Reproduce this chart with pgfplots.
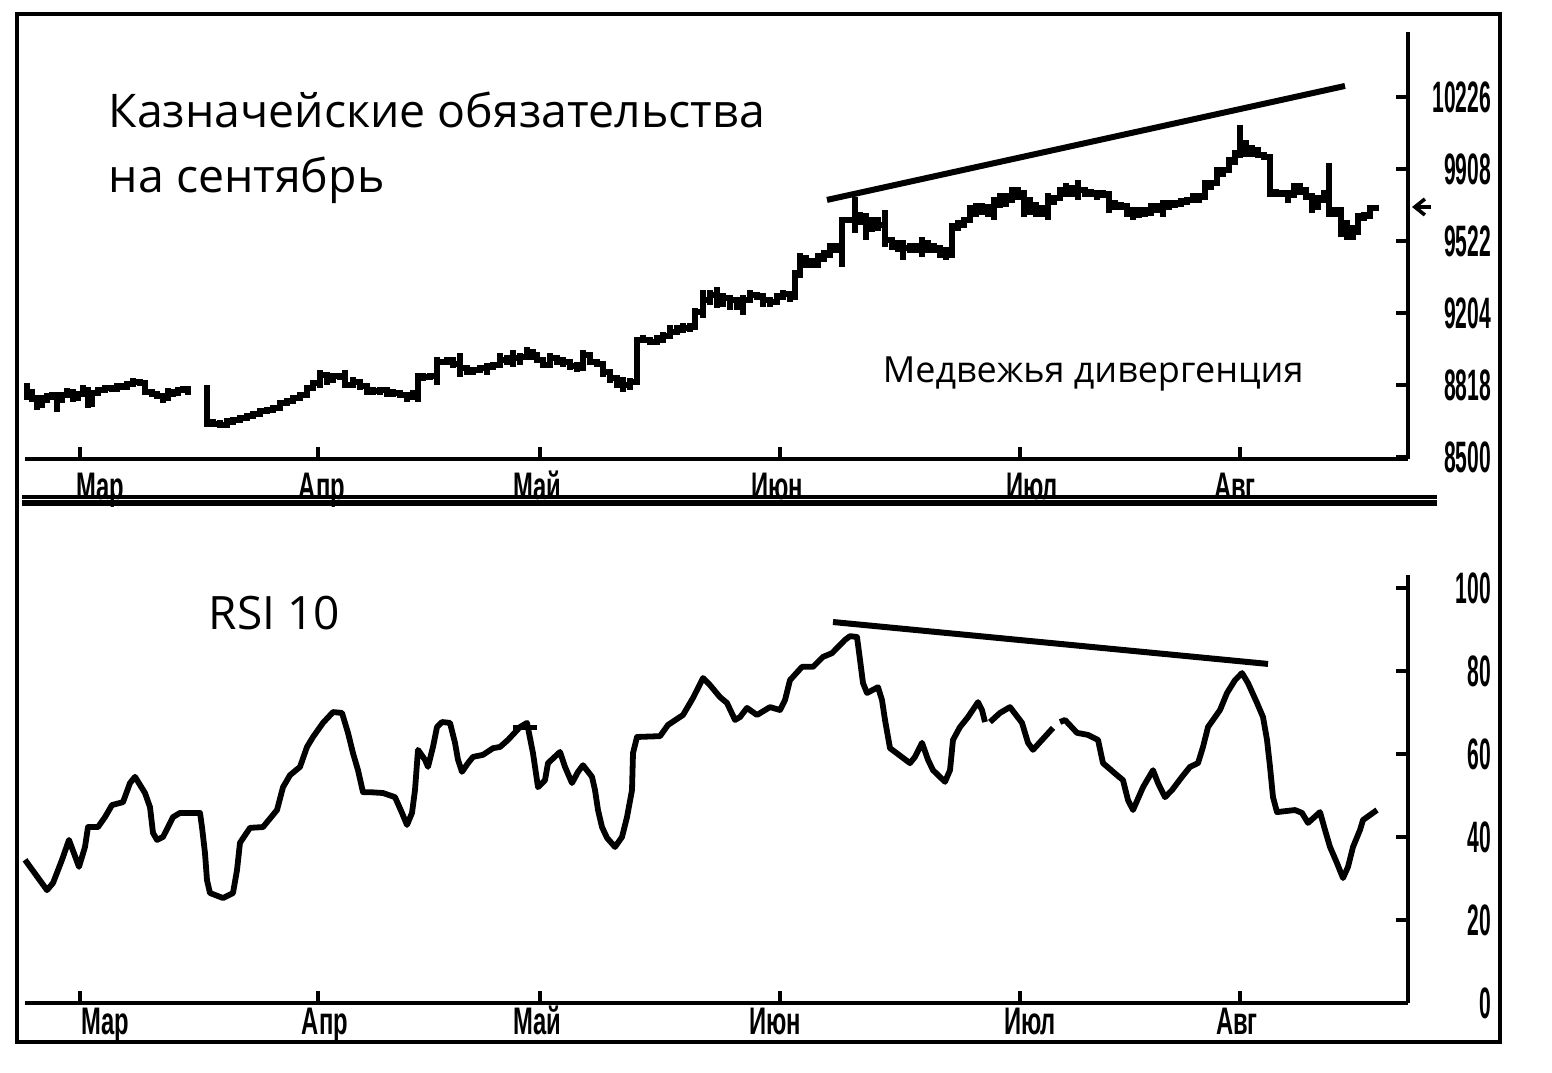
\documentclass[border=0pt]{standalone}
\usepackage{fontspec}
\setmainfont{Open Sans}
\newfontfamily\tickfont[FakeStretch=0.48]{Liberation Sans Bold}
\newfontfamily\monthfont[FakeStretch=0.62]{Liberation Sans Bold}
\usepackage{pgfplots}
\pgfplotsset{compat=1.18}
\usepackage{pgfplotstable}
\usetikzlibrary{arrows.meta}

% price bars, first segment: x (day position), low, high, close
\pgfplotstableread{
x lo hi c
27 87.82 88.66 88.22
32 87.72 88.22 87.92
37 87.33 87.97 87.57
42 87.47 88.07 87.82
47 87.72 88.17 87.97
52 87.97 88.22 88.07
57 87.23 87.97 87.82
62 87.82 88.22 88.07
67 88.07 88.41 88.22
73 87.72 88.17 87.92
78 87.97 88.22 88.12
83 88.22 88.56 88.32
88 87.42 88.32 88.07
92 87.47 88.22 88.17
98 88.17 88.41 88.32
105 88.32 88.56 88.41
112 88.22 88.46 88.36
117 88.32 88.66 88.51
122 88.32 88.56 88.46
127 88.41 88.71 88.61
133 88.46 88.91 88.71
140 88.56 88.81 88.66
145 88.07 88.71 88.22
152 87.97 88.32 88.12
157 87.92 88.22 88.02
163 87.67 88.17 87.92
168 88.07 88.41 88.22
173 87.97 88.32 88.17
178 88.17 88.41 88.32
183 88.22 88.46 88.36
188 88.07 88.46 88.32
}\priceA

\pgfplotstableread{
x lo hi c
207 86.48 88.56 86.73
213 86.48 86.83 86.63
220 86.43 86.83 86.58
227 86.48 86.93 86.73
233 86.58 86.98 86.83
240 86.73 87.08 86.93
247 86.83 87.18 87.03
253 86.98 87.23 87.13
260 87.08 87.42 87.28
267 87.18 87.47 87.33
273 87.23 87.57 87.42
280 87.42 87.82 87.67
287 87.57 87.92 87.77
293 87.72 88.07 87.92
300 87.82 88.22 88.07
307 88.07 88.56 88.41
313 88.32 88.81 88.66
320 88.41 89.30 89.06
327 88.56 89.06 88.91
333 88.66 89.16 89.01
340 88.81 89.16 89.01
345 88.41 89.30 88.56
353 88.56 88.96 88.71
360 88.32 88.81 88.51
367 88.07 88.56 88.32
373 88.07 88.41 88.27
380 88.07 88.41 88.32
387 87.97 88.41 88.22
393 87.97 88.32 88.17
400 87.92 88.32 88.07
407 87.72 88.22 87.97
413 87.82 88.32 88.02
418 87.72 89.16 88.91
423 88.81 89.16 88.96
430 88.81 89.16 89.01
437 88.56 89.95 89.70
447 89.65 89.90 89.80
453 89.40 89.90 89.60
460 88.96 90.15 89.40
467 89.06 89.40 89.21
473 89.06 89.40 89.30
480 89.21 89.55 89.40
487 89.06 89.65 89.45
493 89.30 89.65 89.55
500 89.40 90.15 89.80
507 89.55 90.04 89.90
513 89.45 90.29 89.90
520 89.55 90.15 89.95
527 89.80 90.44 90.20
533 89.80 90.29 90.04
537 89.65 89.90 89.80
543 89.40 89.90 89.55
550 89.65 90.15 89.90
557 89.55 90.04 89.80
563 89.45 89.95 89.70
570 89.30 89.80 89.50
577 89.21 89.70 89.40
583 89.30 90.29 90.04
590 89.55 89.90 89.70
597 89.45 89.80 89.60
603 88.96 89.65 89.21
610 88.66 89.16 88.91
617 88.41 88.96 88.71
623 88.22 88.96 88.56
630 88.32 88.91 88.71
637 88.66 90.94 90.79
643 90.64 91.04 90.79
650 90.54 90.94 90.69
657 90.54 91.04 90.79
663 90.64 91.19 90.99
670 90.94 91.53 91.19
677 91.04 91.53 91.28
683 91.19 91.63 91.38
690 91.19 91.63 91.48
695 91.28 92.37 92.17
703 91.88 93.26 92.77
710 92.52 93.26 93.01
717 92.37 93.41 92.77
723 92.42 93.11 92.87
730 92.27 92.91 92.77
737 92.27 92.91 92.52
743 92.02 93.01 92.77
750 92.62 93.26 93.01
757 92.77 93.16 92.96
763 92.42 93.11 92.77
770 92.42 92.87 92.67
777 92.67 93.11 92.91
783 92.91 93.26 93.06
790 92.67 93.16 92.96
795 92.77 94.25 94.00
800 94.25 95.09 94.50
806 94.35 94.99 94.65
812 94.35 94.85 94.50
818 94.60 95.09 94.85
824 94.65 95.24 94.99
830 95.09 95.59 95.34
836 95.09 95.59 95.44
842 94.40 96.88 96.73
848 96.63 96.88 96.73
855 96.08 97.87 96.98
860 96.48 97.07 96.73
866 95.74 97.07 96.48
872 96.13 96.88 96.33
878 96.23 96.88 96.48
885 95.39 97.22 95.74
892 95.24 95.74 95.49
898 95.14 95.74 95.44
903 94.75 95.74 95.34
910 95.09 95.59 95.24
916 95.09 95.59 95.34
922 94.90 95.88 95.49
928 95.09 95.74 95.34
934 95.09 95.59 95.24
940 94.85 95.49 95.09
946 94.75 95.39 94.99
952 95.09 96.58 96.33
958 96.23 96.73 96.48
964 96.38 96.88 96.73
970 96.88 97.47 97.22
976 96.88 97.57 97.12
982 96.97 97.57 97.37
988 96.88 97.47 97.12
994 96.73 97.87 97.47
1000 97.37 98.06 97.72
1006 97.37 98.06 97.82
1012 97.57 98.36 97.96
1018 97.72 98.36 98.06
1024 96.88 97.96 97.72
1030 96.97 97.87 97.47
1036 96.88 97.37 97.22
1042 96.88 97.47 97.12
1048 96.73 98.06 97.72
1054 97.47 97.96 97.82
1060 97.72 98.36 98.11
1066 97.87 98.56 98.21
1072 97.87 98.46 98.31
1078 97.72 98.71 98.21
1085 97.87 98.31 98.11
1091 97.87 98.21 98.06
1097 97.72 98.21 97.96
1103 97.82 98.21 98.01
1109 97.07 98.06 97.47
1115 97.22 97.72 97.47
1121 97.22 97.57 97.37
1127 96.88 97.57 97.22
1133 96.73 97.37 96.97
1139 96.88 97.37 97.12
1145 96.88 97.37 97.07
1151 97.07 97.57 97.32
1157 97.07 97.57 97.22
1163 96.88 97.72 97.47
1169 97.22 97.72 97.47
1175 97.32 97.72 97.52
1181 97.47 97.82 97.62
1187 97.47 97.82 97.72
1193 97.57 98.06 97.82
1199 97.57 98.06 97.87
1205 97.72 98.71 98.46
1211 98.21 98.71 98.56
1217 98.71 99.35 99.10
1223 98.85 99.35 99.20
1229 99.05 99.84 99.60
1235 99.55 100.19 99.94
1240 99.94 101.43 100.19
1246 99.84 100.69 100.29
1252 99.84 100.34 100.09
1258 99.84 100.34 99.94
1264 99.70 100.04 99.84
1270 97.87 99.94 98.11
1276 97.87 98.21 98.06
1282 97.87 98.21 98.01
1288 97.57 98.21 97.96
1294 98.06 98.56 98.31
1300 97.96 98.56 98.21
1306 97.72 98.21 97.91
1312 97.07 98.06 97.47
1318 97.22 97.96 97.72
1324 97.72 98.21 97.96
1329 96.88 99.55 97.12
1335 96.88 97.37 97.07
1341 95.88 97.37 96.13
1347 95.74 96.73 95.98
1353 95.74 96.48 96.13
1358 96.63 97.07 96.83
1364 96.73 97.12 96.93
1370 97.12 97.47 97.32
1376 97.22 97.47 97.37
}\priceB

% RSI 10
\pgfplotstableread{
x r
25 34.5
47 27.2
53 28.9
62 34.5
69 39.3
79 32.8
85 37.6
88 42.4
98 42.4
105 44.8
112 47.7
123 48.4
130 53.0
135 54.5
145 50.6
150 47.2
153 41.0
157 39.3
163 40.0
173 44.8
180 45.8
200 45.8
202 42.4
205 36.1
207 29.6
210 26.5
223 25.3
233 26.5
237 32.0
240 38.6
250 42.2
263 42.4
277 46.5
283 52.0
290 54.9
300 56.9
307 61.7
313 64.1
323 67.5
333 70.1
342 69.9
348 65.1
353 60.2
358 56.1
363 50.8
370 50.8
383 50.6
395 49.6
402 45.8
407 42.9
412 45.8
415 51.3
417 57.8
418 61.0
425 58.6
428 56.9
433 61.7
437 66.5
442 67.7
450 67.5
455 62.7
458 58.6
462 55.7
468 57.8
473 59.3
483 59.8
493 61.4
500 61.7
508 63.4
520 66.5
527 67.5
533 60.2
538 52.0
545 53.7
548 57.8
560 60.5
565 56.9
572 53.0
578 55.7
583 57.3
592 54.5
595 51.3
598 46.5
602 42.4
607 39.8
615 37.6
622 40.0
627 44.8
632 51.3
633 60.2
637 64.1
660 64.3
668 67.0
683 69.4
693 73.5
703 78.3
710 76.6
720 73.7
727 72.3
735 68.2
740 68.9
747 71.1
757 69.4
770 71.3
780 70.6
785 73.0
790 77.8
802 81.0
813 81.0
823 83.4
832 84.3
845 87.5
850 88.4
857 88.2
860 82.7
863 77.1
867 74.7
878 76.1
882 73.0
885 68.2
888 64.1
890 61.4
910 57.8
915 59.3
922 62.7
928 58.6
933 56.1
945 53.3
950 56.1
953 63.4
960 66.5
968 68.9
978 72.5
982 70.6
985 67.7
987 nan
990 67.7
1000 69.9
1010 71.3
1022 67.5
1028 62.7
1033 61.0
1053 66.3
1056 nan
1060 67.7
1065 68.2
1077 65.1
1088 64.6
1098 63.4
1103 57.8
1117 54.9
1123 53.7
1128 48.9
1133 46.5
1143 52.0
1153 56.1
1158 53.0
1165 49.6
1172 51.3
1182 54.5
1190 56.9
1198 57.8
1203 61.7
1208 66.5
1220 70.6
1227 74.7
1235 77.8
1242 79.5
1248 77.1
1257 72.3
1263 68.9
1267 63.4
1270 56.9
1273 49.6
1277 46.0
1295 46.5
1302 45.8
1308 43.4
1320 46.0
1325 41.7
1330 37.6
1337 33.7
1343 30.1
1348 32.8
1353 37.6
1360 41.7
1363 44.1
1377 46.5
}\rsi

\begin{document}
\begin{tikzpicture}
\useasboundingbox (0,0) rectangle (388pt,268pt);

% ---------- top panel: price ----------
\begin{axis}[
  at={(6.25pt,153.25pt)}, anchor=south west,
  scale only axis, width=345.75pt, height=106.75pt,
  xmin=25, xmax=1408, ymin=84.90, ymax=106.03,
  axis x line=bottom, axis y line=right,
  axis line style={-, line width=1.1pt},
  xtick={80,318,540,780,1020,1240}, xticklabels={},
  ytick={85,88.5625,92.125,95.6875,99.25,102.8125},
  yticklabels={8500,8818,9204,9522,9908,10226},
  tick align=inside, major tick length=3pt,
  tick style={line width=1.1pt, black},
  yticklabel style={font=\tickfont\fontsize{11}{11}\selectfont, anchor=east, xshift=21pt, inner sep=0pt},
  clip=false,
]
\addplot[black, line width=1.4pt, const plot, no marks] table[x=x, y=c] {\priceA};
\addplot[draw=none, mark=none, forget plot, error bars/.cd, y dir=both, y explicit, error mark=none,
  error bar style={draw=black, solid, line width=1.4pt}]
  table[x=x, y=c, y error plus expr=\thisrow{hi}-\thisrow{c}, y error minus expr=\thisrow{c}-\thisrow{lo}] {\priceA};
\addplot[black, line width=1.4pt, const plot, no marks] table[x=x, y=c] {\priceB};
\addplot[draw=none, mark=none, forget plot, error bars/.cd, y dir=both, y explicit, error mark=none,
  error bar style={draw=black, solid, line width=1.4pt}]
  table[x=x, y=c, y error plus expr=\thisrow{hi}-\thisrow{c}, y error minus expr=\thisrow{c}-\thisrow{lo}] {\priceB};
% trend line
\addplot[black, line width=1.5pt, no marks] coordinates {(827,97.72) (1345,103.36)};
% last price arrow
\draw[-{Straight Barb[length=2.5pt,width=4pt]}, line width=0.9pt] (axis cs:1431,97.37) -- (axis cs:1412,97.37);
\end{axis}

% ---------- bottom panel: RSI ----------
\begin{axis}[
  at={(6.25pt,17.25pt)}, anchor=south west,
  scale only axis, width=345.75pt, height=107pt,
  xmin=25, xmax=1408, ymin=0, ymax=103.13,
  axis x line=bottom, axis y line=right,
  axis line style={-, line width=1.1pt},
  xtick={80,318,540,780,1020,1240}, xticklabels={},
  ytick={0,20,40,60,80,100},
  yticklabels={0,20,40,60,80,100},
  tick align=inside, major tick length=3pt,
  tick style={line width=1.1pt, black},
  yticklabel style={font=\tickfont\fontsize{11}{11}\selectfont, anchor=east, xshift=21pt, inner sep=0pt},
  unbounded coords=jump,
  clip=false,
]
\addplot[black, line width=1.45pt, no marks, line join=round] table[x=x, y=r] {\rsi};
\addplot[black, line width=1.2pt, no marks] coordinates {(513,66.3) (537,66.3)};
\addplot[black, line width=1.5pt, no marks] coordinates {(833,91.8) (1268,81.7)};
\end{axis}

% ---------- frame, separators and texts (pixel coordinates) ----------
\begin{scope}[x=0.25pt, y=-0.25pt, yshift=268pt]
\draw[line width=1.2pt] (17,14) rectangle (1500,1042);
\draw[line width=0.9pt] (22,497) -- (1437,497);
\draw[line width=1.4pt] (22,503) -- (1437,503);

\node[anchor=base west, inner sep=0pt, font=\fontsize{11.6}{13}\selectfont] at (108,128) {Казначейские обязательства};
\node[anchor=base west, inner sep=0pt, font=\fontsize{11.6}{13}\selectfont] at (108,193) {на сентябрь};
\node[anchor=base west, inner sep=0pt, font=\fontsize{9}{11}\selectfont] at (882,383) {Медвежья дивергенция};
\node[anchor=base west, inner sep=0pt, font=\fontsize{11.5}{13}\selectfont] at (208,630) {RSI 10};

\foreach \xx/\lab in {100/Мар, 322/Апр, 537/Май, 777/Июн, 1032/Июл, 1235/Авг}
  \node[anchor=base, inner sep=0pt, font=\monthfont\fontsize{9.6}{10}\selectfont] at (\xx,500) {\lab};
\foreach \xx/\lab in {105/Мар, 325/Апр, 537/Май, 775/Июн, 1030/Июл, 1237/Авг}
  \node[anchor=base, inner sep=0pt, font=\monthfont\fontsize{9.6}{10}\selectfont] at (\xx,1034) {\lab};
\end{scope}
\end{tikzpicture}
\end{document}
